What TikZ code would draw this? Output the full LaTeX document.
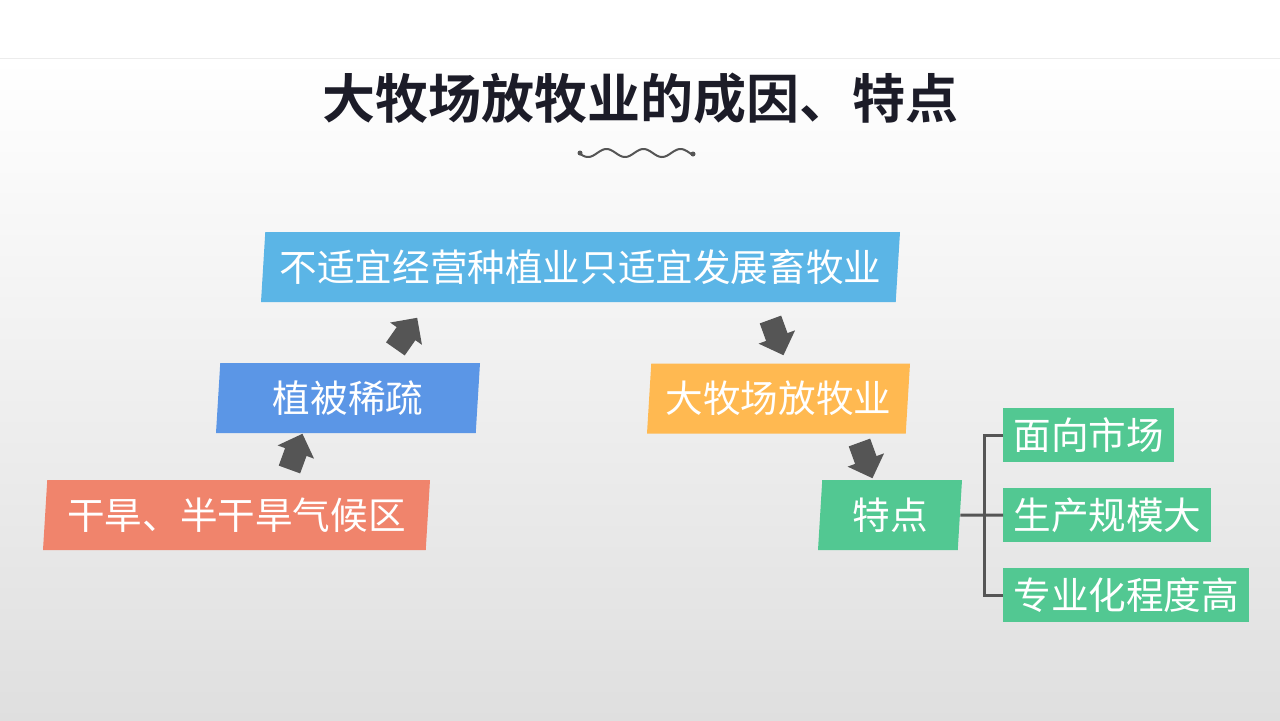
\documentclass[tikz,border=0pt]{standalone}
\usepackage{fontspec}
\setmainfont{Noto Sans CJK SC}[BoldFont={Noto Sans CJK SC Bold}]
\usetikzlibrary{shapes.geometric,shapes.arrows}
\definecolor{skyb}{HTML}{5BB5E6}
\definecolor{midb}{HTML}{5B96E6}
\definecolor{salmon}{HTML}{F0846C}
\definecolor{amber}{HTML}{FFB951}
\definecolor{mint}{HTML}{52C892}
\definecolor{ink}{HTML}{555555}
\definecolor{titleink}{HTML}{1C1C28}

\begin{document}
\begin{tikzpicture}[x=0.5pt, y=-0.5pt, every node/.style={font=\fontsize{18.8}{22}\selectfont, text=white}, pg/.style={trapezium, trapezium left angle=84.3, trapezium right angle=95.7, trapezium stretches body, minimum height=35pt, inner sep=2pt}, tag/.style={anchor=west, minimum height=27pt, inner xsep=5pt, inner ysep=0pt}, blk/.style={single arrow, fill=ink, minimum height=19pt, inner sep=5.5pt, single arrow head extend=4pt}, br/.style={draw=ink, line width=1.5pt}]
	\useasboundingbox (0,0) rectangle (1280,720);
	\fill[white] (0,0) rectangle (1280,58);
	\shade[top color=white, bottom color=gray!25] (0,58) rectangle (1280,720);
	\draw[gray!15] (0,58) -- (1280,58);
	% title and wave
	\node[text=titleink, font=\fontsize{26.5}{30}\selectfont\bfseries] (title) at (640,98) {大牧场放牧业的成因、特点};
	\draw[ink, line width=1pt] plot[domain=0:113, samples=80] (580+\x, {153+4*cos((\x-8)*9.73)});
	\fill[ink] (580,153) circle (2.5) (693,154) circle (2.5);
	% causes
	\node[pg, fill=salmon, minimum width=193.5pt] (dry) at (236.5,515) {干旱、半干旱气候区};
	\node[pg, fill=midb, minimum width=132pt] (veg) at (348,398) {植被稀疏};
	\node[pg, fill=skyb, minimum width=319.5pt] (fit) at (580.5,267) {不适宜经营种植业只适宜发展畜牧业};
	\node[pg, fill=amber, minimum width=131.5pt] (ranch) at (778.5,398.5) {大牧场放牧业};
	\node[pg, fill=mint, minimum width=72pt] (feat) at (890,515) {特点};
	% block arrows
	\node[blk, rotate=70] (up1) at (294,457) {};
	\node[blk, rotate=55] (up2) at (403,338) {};
	\node[blk, rotate=-70] (dn1) at (775,332) {};
	\node[blk, rotate=-70] (dn2) at (864,455) {};
	% features
	\node[tag, fill=mint] (mkt) at (1003,435) {面向市场};
	\node[tag, fill=mint] (scale) at (1003,515) {生产规模大};
	\node[tag, fill=mint] (spec) at (1003,595) {专业化程度高};
	\draw[br] (mkt.west) -- ++(-19,0) |- (spec.west);
	\draw[br] (feat.east) -- (scale.west);
\end{tikzpicture}
\end{document}
